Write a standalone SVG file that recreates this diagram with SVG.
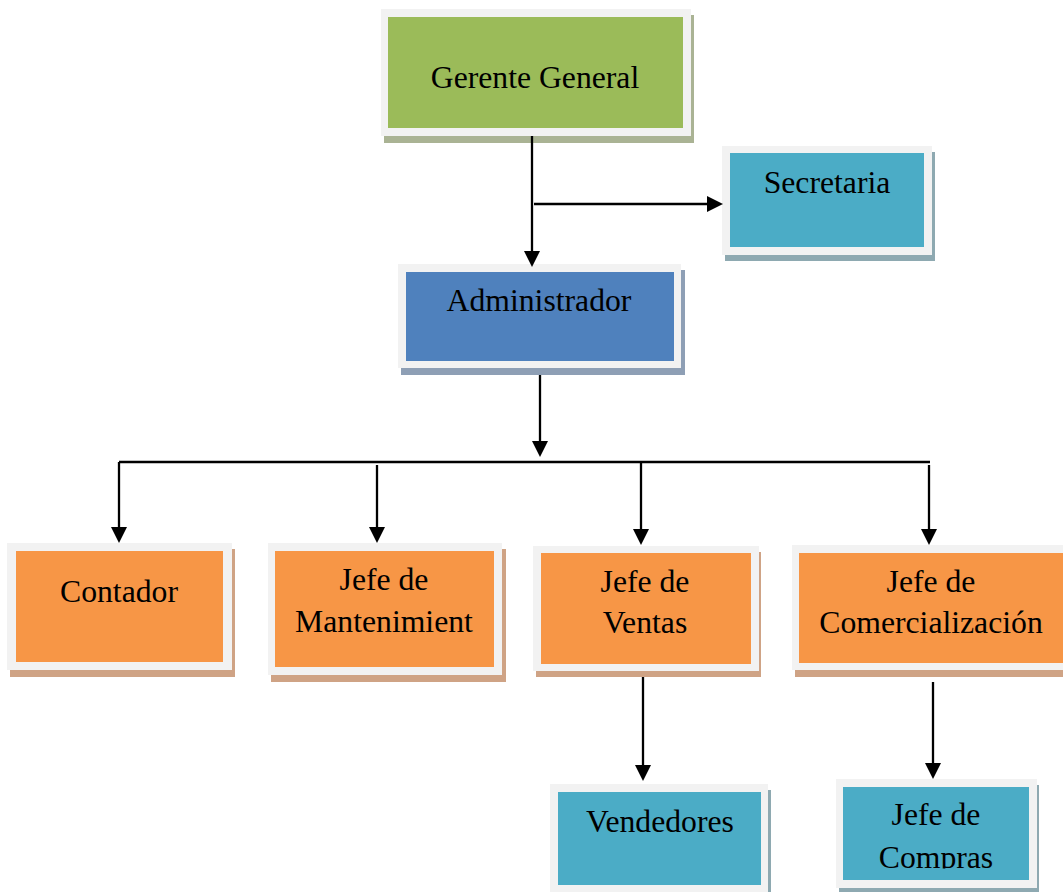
<svg xmlns="http://www.w3.org/2000/svg" width="1063" height="892" viewBox="0 0 1063 892">
<style>
.frame{fill:#f2f2f2}
.t{font-family:"Liberation Serif","Times New Roman",serif;font-size:31.7px;fill:#000;text-anchor:middle}
.green{fill:#9bbb59}
.blue{fill:#4f81bd}
.teal{fill:#4bacc6}
.orange{fill:#f79646}
.sh-green{fill:#aab394}
.sh-blue{fill:#8e9fb5}
.sh-teal{fill:#8ea9b1}
.sh-orange{fill:#cfa385}
.conn{stroke:#000;stroke-width:2.3;fill:none}
</style>
<defs>
<marker id="arr" markerUnits="userSpaceOnUse" viewBox="0 0 16 16" markerWidth="16" markerHeight="16" refX="4" refY="8" orient="auto">
<path d="M0,0 L16,8 L0,16 z" fill="#000"/>
</marker>
<clipPath id="clipCompras"><rect x="836" y="779" width="201" height="89.5"/></clipPath>
</defs>
<rect width="1063" height="892" fill="#fff"/>

<g id="gerente">
<rect class="sh-green" x="384" y="15" width="310" height="128"/>
<rect class="frame" x="381" y="9" width="310" height="127"/>
<rect class="green" x="388" y="17" width="295" height="111"/>
<text class="t" x="535" y="88">Gerente General</text>
</g>

<g id="secretaria">
<rect class="sh-teal" x="725" y="152" width="210" height="109"/>
<rect class="frame" x="722" y="146" width="210" height="109"/>
<rect class="teal" x="730" y="153" width="194" height="94"/>
<text class="t" x="827" y="193">Secretaria</text>
</g>

<g id="administrador">
<rect class="sh-blue" x="401" y="270" width="284" height="105"/>
<rect class="frame" x="398" y="264" width="283" height="104"/>
<rect class="blue" x="406" y="272" width="268" height="89"/>
<text class="t" x="539" y="311">Administrador</text>
</g>

<g id="contador">
<rect class="sh-orange" x="10" y="549" width="225" height="128"/>
<rect class="frame" x="7" y="543" width="225" height="127"/>
<rect class="orange" x="16" y="551" width="207" height="111"/>
<text class="t" x="119" y="602">Contador</text>
</g>

<g id="mantenimiento">
<rect class="sh-orange" x="271" y="549" width="235" height="133"/>
<rect class="frame" x="268" y="543" width="234" height="132"/>
<rect class="orange" x="275" y="551" width="219" height="116"/>
<text class="t" x="384" y="590">Jefe de</text>
<text class="t" x="384" y="632">Mantenimient</text>
</g>

<g id="ventas">
<rect class="sh-orange" x="536" y="552" width="225" height="125"/>
<rect class="frame" x="533" y="546" width="226" height="125"/>
<rect class="orange" x="541" y="553" width="210" height="111"/>
<text class="t" x="645" y="592">Jefe de</text>
<text class="t" x="645" y="633">Ventas</text>
</g>

<g id="comercializacion">
<rect class="sh-orange" x="795" y="551" width="280" height="126"/>
<rect class="frame" x="792" y="545" width="280" height="125"/>
<rect class="orange" x="799" y="553" width="264" height="110"/>
<text class="t" x="931" y="592">Jefe de</text>
<text class="t" x="931" y="633">Comercialización</text>
</g>

<g id="vendedores">
<rect class="sh-teal" x="553" y="790" width="218" height="110"/>
<rect class="frame" x="550" y="784" width="218" height="110"/>
<rect class="teal" x="558" y="792" width="203" height="93"/>
<text class="t" x="660" y="832">Vendedores</text>
</g>

<g id="compras">
<rect class="sh-teal" x="839" y="785" width="200" height="107"/>
<rect class="frame" x="836" y="779" width="201" height="109"/>
<rect class="teal" x="843" y="787" width="186" height="93"/>
<text class="t" x="936" y="825">Jefe de</text>
<text class="t" x="936" y="868" clip-path="url(#clipCompras)">Compras</text>
</g>

<g id="connectors">
<path class="conn" d="M532,136 V255" marker-end="url(#arr)"/>
<path class="conn" d="M534,204 H711" marker-end="url(#arr)"/>
<path class="conn" d="M540,375 V445" marker-end="url(#arr)"/>
<path class="conn" d="M119,462 H930"/>
<path class="conn" d="M119,462 V531" marker-end="url(#arr)"/>
<path class="conn" d="M377,465 V531" marker-end="url(#arr)"/>
<path class="conn" d="M641,462 V533" marker-end="url(#arr)"/>
<path class="conn" d="M929,465 V533" marker-end="url(#arr)"/>
<path class="conn" d="M643,677 V769" marker-end="url(#arr)"/>
<path class="conn" d="M933,682 V767" marker-end="url(#arr)"/>
</g>
</svg>
